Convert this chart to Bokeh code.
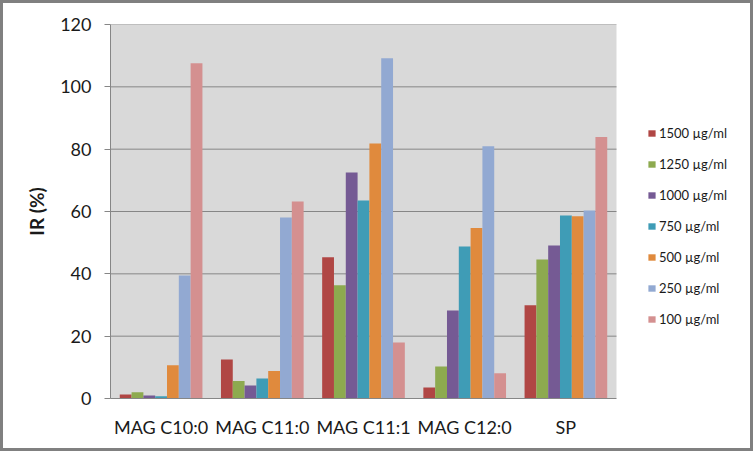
import numpy as np
from bokeh.plotting import figure
from bokeh.models import ColumnDataSource, Legend, LegendItem, Range1d, FixedTicker
from bokeh.transform import dodge
from bokeh.embed import file_html
from bokeh.resources import INLINE

categories = ["MAG C10:0", "MAG C11:0", "MAG C11:1", "MAG C12:0", "SP"]
series_names = ["1500 µg/ml", "1250 µg/ml", "1000 µg/ml", "750 µg/ml", "500 µg/ml", "250 µg/ml", "100 µg/ml"]
s1500 = [1.3, 12.5, 45.3, 3.5, 29.9]
s1250 = [2.0, 5.6, 36.3, 10.3, 44.6]
s1000 = [1.0, 4.2, 72.5, 28.2, 49.1]
s750 = [0.7, 6.4, 63.5, 48.8, 58.7]
s500 = [10.7, 8.8, 81.8, 54.7, 58.5]
s250 = [39.5, 58.1, 109.2, 80.9, 60.3]
s100 = [107.6, 63.2, 18.0, 8.1, 83.9]
y_ticks = [0, 20, 40, 60, 80, 100, 120]

colors = ["#B04644", "#8DAA4F", "#755A94", "#3F9CB6", "#E08A3D", "#92A9D2", "#D49090"]
keys = ["s1500", "s1250", "s1000", "s750", "s500", "s250", "s100"]
n_cat = len(categories)
xpos = np.arange(n_cat) + 0.5
source = ColumnDataSource(dict(x=xpos, s1500=s1500, s1250=s1250, s1000=s1000,
                               s750=s750, s500=s500, s250=s250, s100=s100))

FONT = "Lato"
FRAME_W = 635
CAT_AREA_W = 506
p = figure(x_range=Range1d(0, n_cat * FRAME_W / CAT_AREA_W), y_range=Range1d(0, y_ticks[-1]),
           width=753, height=451, output_backend="svg", toolbar_location=None,
           min_border_left=107, min_border_top=21, min_border_right=11, min_border_bottom=56,
           background_fill_color="white", border_fill_color="white",
           styles={"border": "3px solid #808080"})
p.outline_line_color = None
p.grid.grid_line_color = None

# plot-area background and gridlines limited to the category area
p.quad(left=[0], right=[n_cat], bottom=[y_ticks[0]], top=[y_ticks[-1]],
       fill_color="#D9D9D9", line_color=None, level="underlay")
p.segment(x0=[0] * (len(y_ticks) - 1), x1=[n_cat] * (len(y_ticks) - 1),
          y0=y_ticks[1:], y1=y_ticks[1:], line_color="#868686", line_width=1, level="underlay")

bw = 0.1167
renderers = []
for i, k in enumerate(keys):
    r = p.vbar(x=dodge("x", (i - 3) * bw), top=k, width=bw,
               source=source, fill_color=colors[i], line_color=None)
    renderers.append(r)

p.yaxis.ticker = FixedTicker(ticks=y_ticks)
p.yaxis.minor_tick_line_color = None
p.yaxis.major_tick_out = 6
p.yaxis.major_tick_in = 0
p.yaxis.major_tick_line_color = "#868686"
p.yaxis.axis_line_color = "#868686"
p.yaxis.major_label_text_font = FONT
p.yaxis.major_label_text_font_size = "18px"
p.yaxis.major_label_text_color = "#1a1a1a"
p.yaxis.major_label_standoff = 13
p.yaxis.axis_label = "IR (%)"
p.yaxis.axis_label_text_font = FONT
p.yaxis.axis_label_text_font_style = "bold"
p.yaxis.axis_label_text_font_size = "19px"
p.yaxis.axis_label_text_color = "#1a1a1a"
p.yaxis.axis_label_standoff = 9

p.xaxis.ticker = FixedTicker(ticks=list(xpos))
p.xaxis.major_label_overrides = {float(x): c for x, c in zip(xpos, categories)}
p.xaxis.bounds = (0, n_cat)
p.xaxis.axis_line_color = "#868686"
p.xaxis.major_tick_line_color = None
p.xaxis.minor_tick_line_color = None
p.xaxis.major_label_text_font = FONT
p.xaxis.major_label_text_font_size = "18px"
p.xaxis.major_label_text_color = "#1a1a1a"
p.xaxis.major_label_standoff = 11

legend = Legend(items=[LegendItem(label=n, renderers=[r]) for n, r in zip(series_names, renderers)],
                location=(537, 69), orientation="vertical")
legend.glyph_width = 9
legend.glyph_height = 8
legend.label_height = 20
legend.spacing = 11
legend.padding = 0
legend.margin = 0
legend.label_standoff = 3
legend.label_text_font = FONT
legend.label_text_font_size = "13px"
legend.label_text_color = "#1a1a1a"
legend.border_line_color = None
legend.background_fill_alpha = 0
p.add_layout(legend, "center")

open("out.html", "w").write(file_html(p, INLINE))
